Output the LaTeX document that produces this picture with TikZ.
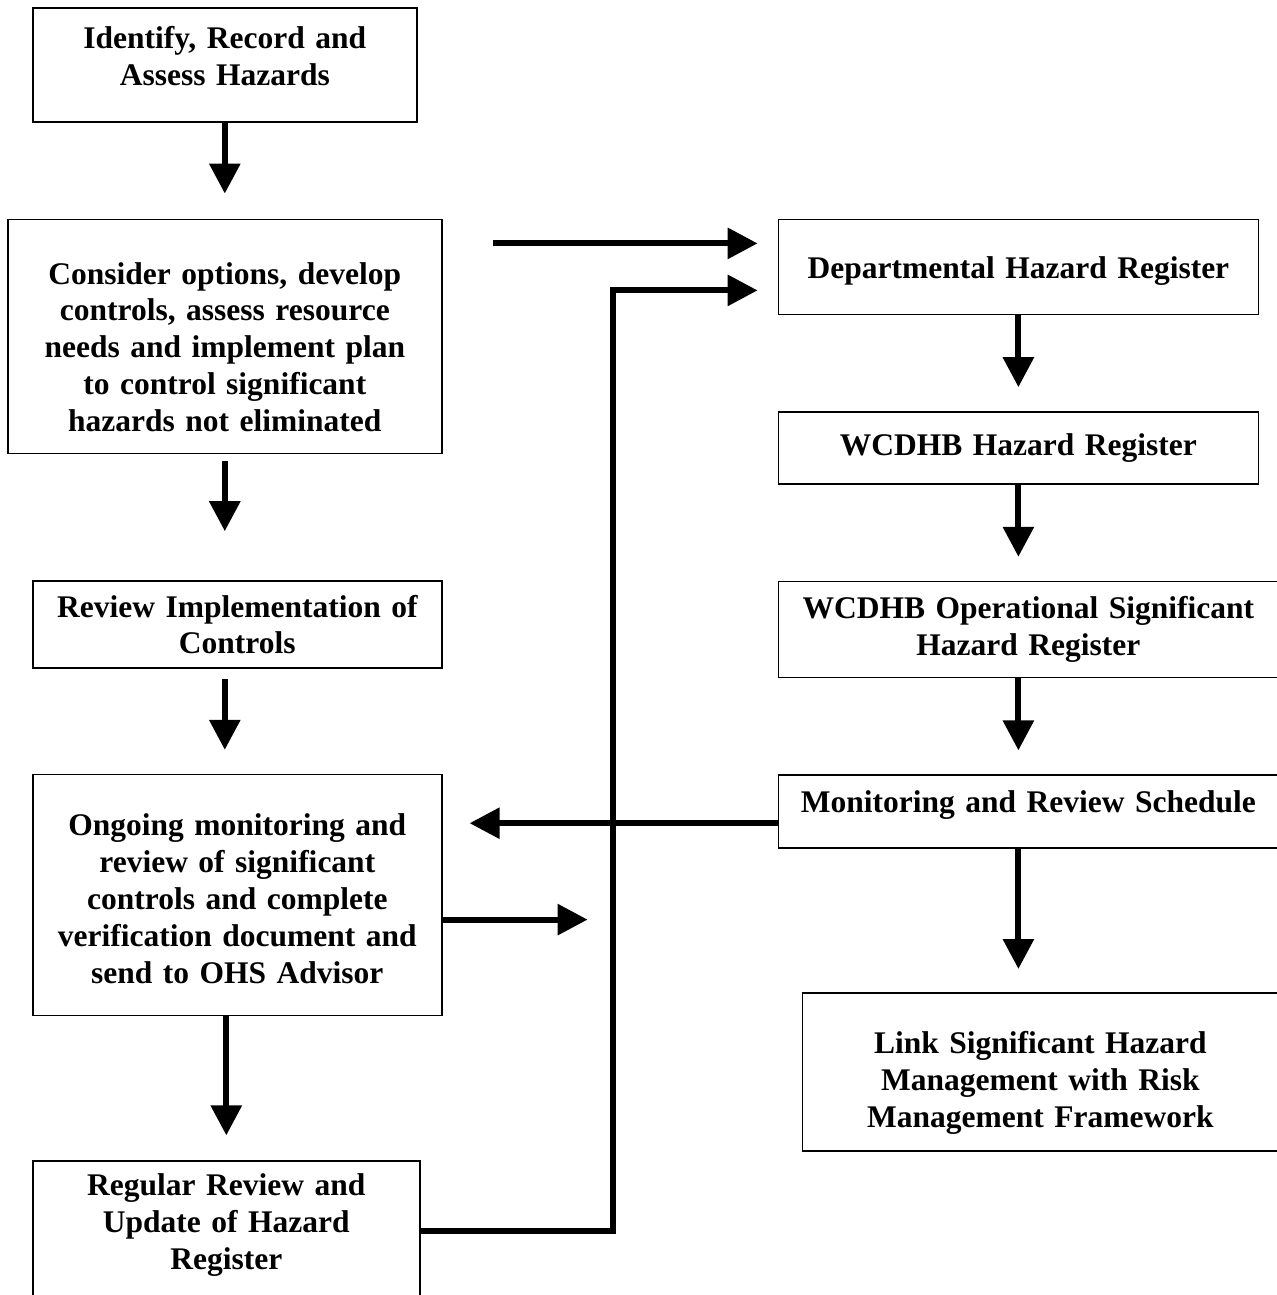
\documentclass[tikz,border=0pt]{standalone}
\usepackage{fontspec}
\setmainfont{Liberation Serif}
\usepackage{tikz}
\usetikzlibrary{arrows.meta, positioning, calc}

% struts to nudge text inside a box
\newcommand{\padtop}[1]{\rule{0pt}{#1}}
\newcommand{\padbot}[1]{\rule[-#1]{0pt}{#1}}

\begin{document}
\begin{tikzpicture}[
    box/.style={rectangle, draw=black, line width=0.8pt, inner sep=2pt, text centered, font=\fontsize{15.75}{18.4}\selectfont\bfseries},
    line/.style={draw=black, line width=3pt, -{Triangle[length=15pt, width=15pt]}}
]
\useasboundingbox (0,0) rectangle (638.5pt,-647.5pt);

% Left Column: Hazard Process
\node [box, text width=188pt, minimum height=57pt, anchor=north west] (ident) at (16pt,-3.5pt) {Identify, Record and\\Assess Hazards\padbot{8.5pt}};
\node [box, text width=213pt, minimum height=117pt, below=48pt of ident] (consider) {\padtop{21.5pt}Consider options, develop\\controls, assess resource\\needs and implement plan\\to control significant\\hazards not eliminated};
\node [box, text width=200.5pt, minimum height=43.5pt, below=63pt of consider, xshift=6.25pt] (review) {Review Implementation of\\Controls};
\node [box, text width=200.5pt, minimum height=120.5pt, below=52.5pt of review] (ongoing) {\padtop{14.5pt}Ongoing monitoring and\\review of significant\\controls and complete\\verification document and\\send to OHS Advisor};
\node [box, text width=189.5pt, minimum height=69.5pt, below=72pt of ongoing, xshift=-5.5pt] (regular) {Regular Review and\\Update of Hazard\\Register\padbot{9.3pt}};

% Right Column: Registers
\node [box, text width=236pt, minimum height=47.5pt, right=167.5pt of consider.north east, anchor=north west] (dept) {\padtop{15pt}Departmental Hazard Register};
\node [box, text width=236pt, minimum height=36pt, below=48pt of dept] (wcdhb) {WCDHB Hazard Register};
\node [box, text width=246pt, minimum height=48pt, below=48pt of wcdhb.south west, anchor=north west] (op) {WCDHB Operational Significant\\Hazard Register};
\node [box, text width=246pt, minimum height=36.5pt, below=48pt of op] (mon) {Monitoring and Review Schedule\padbot{10.4pt}};
\node [box, text width=234pt, minimum height=79pt, below=71.5pt of mon, xshift=6pt] (link) {\padtop{22pt}Link Significant Hazard\\Management with Risk\\Management Framework};

% Helper Points
\coordinate (in1) at ([yshift=11.75pt]dept.west);
\coordinate (in2) at ([yshift=-11.75pt]dept.west);
\coordinate (riser) at ([xshift=85pt]consider.east);
\coordinate (back) at ([yshift=-5.75pt]mon.west);
\coordinate (verif) at ([xshift=72.5pt, yshift=-12.25pt]ongoing.east);

% Connections
\path [line, shorten >=12.5pt] (ident) -- (consider);
\path [line, shorten <=3.5pt, shorten >=24.5pt] (consider.south) -- (review.north -| consider.south);
\path [line, shorten <=5pt, shorten >=12pt] (review.south -| ident.south) -- (ongoing.north -| ident.south);
\path [line, shorten >=12.5pt] (ongoing.south -| regular.north) -- (regular.north);
\path [line, shorten >=12pt] (dept) -- (wcdhb);
\path [line, shorten >=12pt] (wcdhb) -- (op.north -| wcdhb.south);
\path [line, shorten >=12pt] (op.south -| dept.south) -- (mon.north -| dept.south);
\path [line, shorten >=11.5pt] (mon.south -| dept.south) -- (link.north -| dept.south);
\path [line, shorten >=10pt] (consider.east |- in1) ++(25pt,0) -- (in1);
\path [line, shorten >=10pt] (regular.east) -| (riser) |- (in2);
\path [line, shorten >=13.5pt] (back) -- (back -| ongoing.east);
\path [line] (ongoing.east |- verif) -- (verif);

\end{tikzpicture}
\end{document}
